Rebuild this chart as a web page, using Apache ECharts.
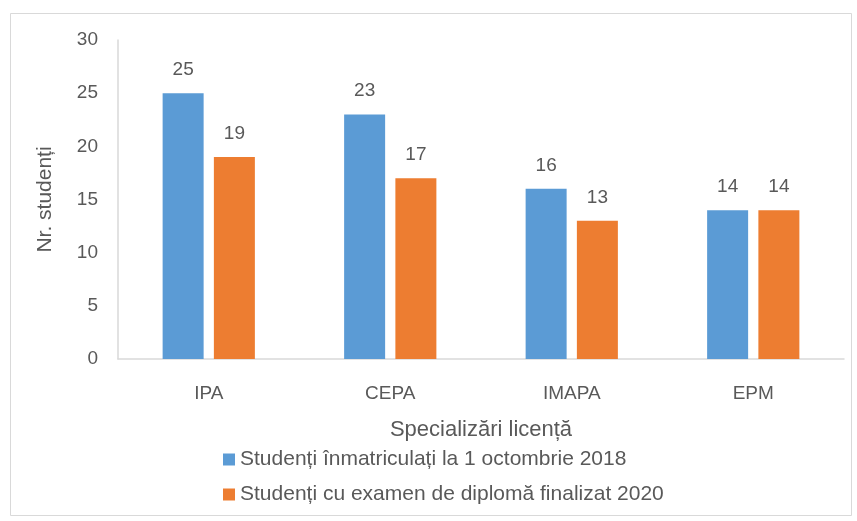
<!DOCTYPE html>
<html>
<head>
<meta charset="utf-8">
<script src="https://cdn.jsdelivr.net/npm/echarts@6/dist/echarts.min.js"></script>
<style>
  html, body { margin: 0; padding: 0; background: #fff; }
  #chart { width: 857px; height: 521px; }
</style>
</head>
<body>
<div id="chart"></div>
<script>
// data
const categories = ['IPA', 'CEPA', 'IMAPA', 'EPM'];
const enrolled = [25, 23, 16, 14];
const graduated = [19, 17, 13, 14];
const seriesNames = [
  'Studenți înmatriculați la 1 octombrie 2018',
  'Studenți cu examen de diplomă finalizat 2020'
];

const textColor = '#595959';
const fontFamily = 'Liberation Sans, Arial, sans-serif';

var chart = echarts.init(document.getElementById('chart'), null, { renderer: 'canvas' });

function barSeries(name, values, color) {
  return {
    name: name,
    type: 'bar',
    data: values,
    barWidth: 41,
    barGap: '25%',
    itemStyle: { color: color },
    label: {
      show: true,
      position: 'top',
      distance: 14,
      color: textColor,
      fontSize: 19,
      fontFamily: fontFamily
    }
  };
}

var option = {
  animation: false,
  backgroundColor: '#fff',
  graphic: [{
    type: 'rect',
    shape: { x: 10.5, y: 13.5, width: 841, height: 502 },
    style: { fill: 'none', stroke: '#d9d9d9', lineWidth: 1 },
    silent: true
  }],
  grid: { left: 118, right: 13, top: 40, bottom: 162 },
  legend: {
    orient: 'vertical',
    left: 218,
    top: 444,
    itemWidth: 12,
    itemHeight: 12,
    itemGap: 14,
    icon: 'rect',
    textStyle: { color: textColor, fontSize: 21, fontFamily: fontFamily },
    data: seriesNames
  },
  xAxis: {
    type: 'category',
    data: categories,
    name: 'Specializări licență',
    nameLocation: 'middle',
    nameGap: 60,
    nameTextStyle: { color: textColor, fontSize: 22, fontFamily: fontFamily },
    axisLine: { lineStyle: { color: '#d9d9d9', width: 1.5 } },
    axisTick: { show: false },
    axisLabel: { color: textColor, fontSize: 19, fontFamily: fontFamily, margin: 25 }
  },
  yAxis: {
    type: 'value',
    min: 0,
    max: 30,
    interval: 5,
    name: 'Nr. studenți',
    nameLocation: 'middle',
    nameGap: 62,
    nameRotate: 90,
    nameTextStyle: { color: textColor, fontSize: 21, fontFamily: fontFamily },
    axisLine: { show: true, lineStyle: { color: '#d9d9d9', width: 1.5 } },
    axisTick: { show: false },
    splitLine: { show: false },
    axisLabel: { color: textColor, fontSize: 19, fontFamily: fontFamily, margin: 20 }
  },
  series: [
    barSeries(seriesNames[0], enrolled, '#5b9bd5'),
    barSeries(seriesNames[1], graduated, '#ed7d31')
  ]
};

chart.setOption(option);
</script>
</body>
</html>
